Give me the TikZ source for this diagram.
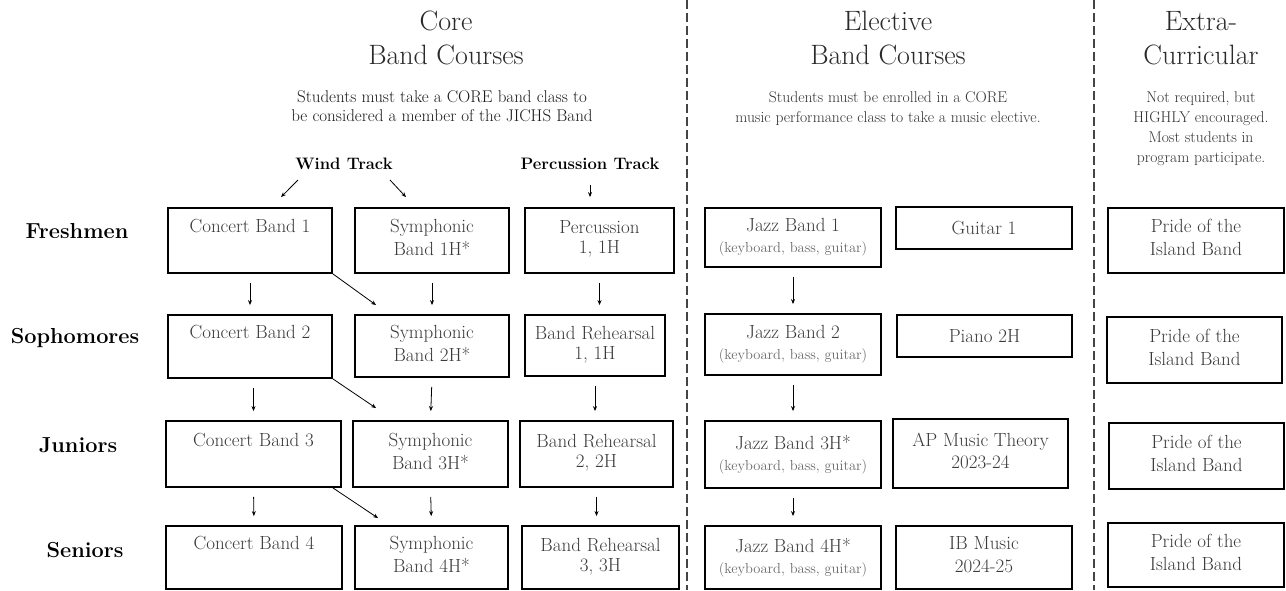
\documentclass[tikz,border=0pt]{standalone}
\usepackage{fontspec}
\usetikzlibrary{arrows.meta}
\definecolor{titlec}{HTML}{2A2A2A}
\definecolor{coresub}{HTML}{1A1A1A}
\definecolor{subc}{HTML}{333333}
\definecolor{boxtxt}{HTML}{3A3A3A}
\definecolor{smalltxt}{HTML}{6A6A6A}
\definecolor{dashc}{HTML}{444444}
\newcommand{\bxstrut}{\rule[-6pt]{0pt}{6pt}}
\newcommand{\smalltext}[1]{{\fontsize{14.5}{16}\selectfont\color{smalltxt}#1}}
\begin{document}
\begin{tikzpicture}[x=1pt,y=-1pt,
  box/.style={draw=black, line width=1.8pt, rectangle, inner sep=0pt, align=center,
    text=boxtxt, font=\fontsize{19}{23}\selectfont},
  titletext/.style={align=center, text=titlec, inner sep=0pt, font=\fontsize{28}{34}\selectfont},
  coresubtext/.style={align=center, text=coresub, inner sep=0pt, font=\fontsize{17}{19}\selectfont},
  subtext/.style={align=center, text=subc, inner sep=0pt, font=\fontsize{15.6}{20}\selectfont},
  rowlabel/.style={anchor=base, inner sep=0pt, font=\fontsize{21.7}{25}\selectfont\bfseries},
  tracklabel/.style={anchor=base, inner sep=0pt, font=\fontsize{16.6}{19}\selectfont\bfseries},
  arr/.style={draw=black, line width=0.8pt, -{Stealth[length=5pt,width=4pt]}},
  varr/.style={arr, shorten <=9pt, shorten >=9pt},
  divider/.style={draw=dashc, line width=1.3pt, dash pattern=on 9pt off 4pt}
]
\useasboundingbox (0,0) rectangle (1286,590);

% column dividers
\coordinate (d1top) at (687,0);
\coordinate (d1bot) at (687,590);
\coordinate (d2top) at (1094,0);
\coordinate (d2bot) at (1094,590);
\draw[divider] (d1top) -- (d1bot);
\draw[divider] (d2top) -- (d2bot);

% titles
\node[titletext] (coreT) at (446,38) {Core\\Band Courses};
\node[titletext] (elecT) at (888,38) {Elective\\Band Courses};
\node[titletext] (extraT) at (1201,38) {Extra-\\Curricular};

\node[coresubtext] (coreS) at (442,106) {Students must take a CORE band class to\\be considered a member of the JICHS Band};
\node[subtext] (elecS) at (888,109) {Students must be enrolled in a CORE\\music performance class to take a music elective.};
\node[subtext] (extraS) at (1201,129) {Not required, but\\HIGHLY encouraged.\\Most students in\\program participate.};

% track labels
\node[tracklabel] (wind) at (344,169) {Wind Track};
\node[tracklabel] (perc) at (590,169) {Percussion Track};

% row labels
\node[rowlabel] (fresh) at (77,238) {Freshmen};
\node[rowlabel] (soph) at (75,343) {Sophomores};
\node[rowlabel] (jun) at (78,452) {Juniors};
\node[rowlabel] (sen) at (85,557) {Seniors};

% Freshmen row
\node[box, minimum width=164pt, minimum height=65pt] (cb1) at (250,240.5) {Concert Band 1\\\bxstrut};
\node[box, minimum width=154pt, minimum height=65pt] (sb1) at (432,240.5) {Symphonic\\Band 1H*\bxstrut};
\node[box, minimum width=149pt, minimum height=65pt] (pb1) at (599.5,240.5) {Percussion\\[-3pt]1, 1H\bxstrut};
\node[box, minimum width=176pt, minimum height=59pt] (jb1) at (793,237.5) {Jazz Band 1\\[-2pt]\smalltext{(keyboard, bass, guitar)}};
\node[box, minimum width=176pt, minimum height=42pt] (g1) at (984,228) {Guitar 1};
\node[box, minimum width=176pt, minimum height=65pt] (pr1) at (1196,240.5) {Pride of the\\Island Band\bxstrut};

% Sophomores row
\node[box, minimum width=164pt, minimum height=63pt] (cb2) at (250,346.5) {Concert Band 2\\\bxstrut};
\node[box, minimum width=154pt, minimum height=62pt] (sb2) at (432,346) {Symphonic\\Band 2H*\bxstrut};
\node[box, minimum width=140pt, minimum height=61pt] (pb2) at (595,345.5) {Band Rehearsal\\[-3pt]1, 1H\bxstrut};
\node[box, minimum width=176pt, minimum height=61pt] (jb2) at (793,344.5) {Jazz Band 2\\[-2pt]\smalltext{(keyboard, bass, guitar)}};
\node[box, minimum width=175pt, minimum height=42pt] (pn) at (984.5,336) {Piano 2H};
\node[box, minimum width=175pt, minimum height=66pt] (pr2) at (1194.5,350) {Pride of the\\Island Band\bxstrut};

% Juniors row
\node[box, minimum width=175pt, minimum height=66pt] (cb3) at (253.5,454) {Concert Band 3\\\bxstrut};
\node[box, minimum width=155pt, minimum height=66pt] (sb3) at (430.5,454) {Symphonic\\Band 3H*\bxstrut};
\node[box, minimum width=153pt, minimum height=66pt] (pb3) at (596.5,454) {Band Rehearsal\\[-3pt]2, 2H\bxstrut};
\node[box, minimum width=176pt, minimum height=67pt] (jb3) at (793,454.5) {Jazz Band 3H*\\[-2pt]\smalltext{(keyboard, bass, guitar)}};
\node[box, minimum width=175pt, minimum height=69pt] (ap) at (980.5,453.5) {AP Music Theory\\[-1pt]2023-24\bxstrut};
\node[box, minimum width=175pt, minimum height=66pt] (pr3) at (1196.5,456) {Pride of the\\Island Band\bxstrut};

% Seniors row
\node[box, minimum width=176pt, minimum height=63pt] (cb4) at (254,557.5) {Concert Band 4\\\bxstrut};
\node[box, minimum width=153pt, minimum height=63pt] (sb4) at (431.5,557.5) {Symphonic\\Band 4H*\bxstrut};
\node[box, minimum width=157pt, minimum height=63pt] (pb4) at (600.5,557.5) {Band Rehearsal\\[-3pt]3, 3H\bxstrut};
\node[box, minimum width=176pt, minimum height=63pt] (jb4) at (793,557.5) {Jazz Band 4H*\\[-2pt]\smalltext{(keyboard, bass, guitar)}};
\node[box, minimum width=176pt, minimum height=63pt] (ib) at (984,557.5) {IB Music\\2024-25\bxstrut};
\node[box, minimum width=176pt, minimum height=64pt] (pr4) at (1196,555) {Pride of the\\Island Band\bxstrut};

% track arrows
\draw[arr] ([xshift=-46pt,yshift=-11pt]wind.base) -- ([xshift=31pt,yshift=10pt]cb1.north);
\draw[arr] ([xshift=46pt,yshift=-11pt]wind.base) -- ([xshift=-26pt,yshift=10pt]sb1.north);
\draw[arr] ([yshift=-16pt]perc.base) -- ([xshift=-9.5pt,yshift=10pt]pb1.north);

% concert band progression
\draw[varr] (cb1.south) -- (cb2.north);
\draw[varr] (cb3.north |- cb2.south) -- (cb3.north);
\draw[varr] (cb3.south) -- (cb4.north);
% concert to symphonic
\draw[arr] (cb1.south east) -- ([xshift=22pt,yshift=9pt]sb2.north west);
\draw[arr] (cb2.south east) -- ([xshift=24pt,yshift=12pt]sb3.north west);
\draw[arr] ([xshift=-9pt]cb3.south east) -- ([xshift=24pt,yshift=7pt]sb4.north west);
% symphonic progression
\draw[varr] (sb1.south) -- (sb2.north);
\draw[varr] (sb2.south) -- (sb3.north);
\draw[varr] (sb3.south) -- (sb4.north);
% percussion progression
\draw[varr] (pb1.south) -- (pb1.south |- pb2.north);
\draw[varr] (pb2.south) -- (pb2.south |- pb3.north);
\draw[varr] (pb3.south) -- (pb3.south |- pb4.north);
% jazz progression
\draw[varr] (jb1.south) -- (jb2.north);
\draw[varr] (jb2.south) -- (jb3.north);
\draw[varr] (jb3.south) -- (jb4.north);
\end{tikzpicture}
\end{document}
